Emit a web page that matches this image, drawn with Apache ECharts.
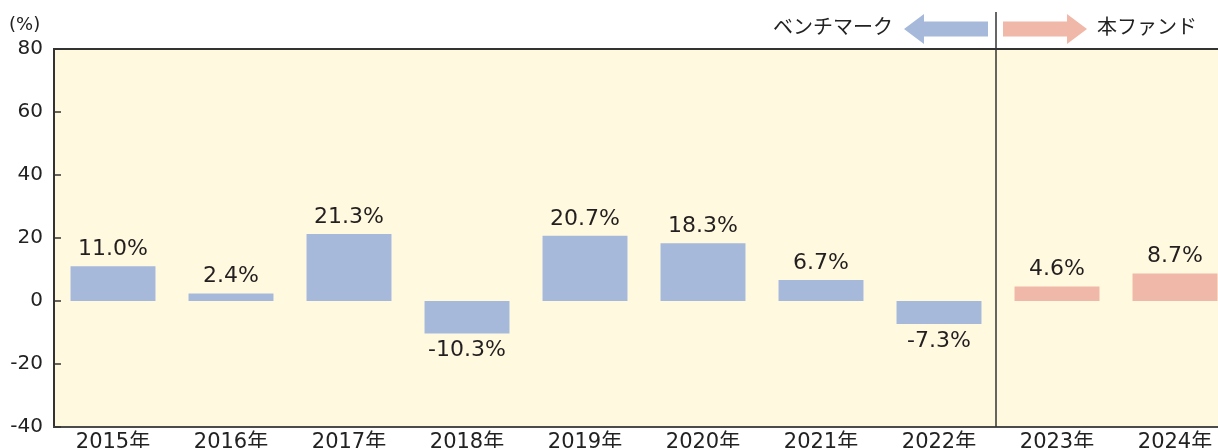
<!DOCTYPE html>
<html>
<head>
<meta charset="utf-8">
<script src="https://cdn.jsdelivr.net/npm/echarts@6/dist/echarts.min.js"></script>
<style>
  html, body { margin: 0; padding: 0; background: #fff; }
  #main { width: 1218px; height: 448px; }
</style>
</head>
<body>
<div id="main"></div>
<script type="text/javascript">
	// データ
	var years = ['2015年', '2016年', '2017年', '2018年', '2019年', '2020年', '2021年', '2022年', '2023年', '2024年'];
	var benchmark = [11.0, 2.4, 21.3, -10.3, 20.7, 18.3, 6.7, -7.3, null, null];
	var fund = [null, null, null, null, null, null, null, null, 4.6, 8.7];
	var yTicks = { min: -40, max: 80, interval: 20 };

	var numFont = '"DejaVu Sans", "Noto Sans CJK JP", sans-serif';
	var jpFont = '"Noto Sans CJK JP", sans-serif';

	function toItems(arr) {
		return arr.map(function (v) {
			if (v === null) return null;
			return {
				value: v,
				label: { position: v < 0 ? 'bottom' : 'top' }
			};
		});
	}

	var chart = echarts.init(document.getElementById('main'));
	var option = {
		animation: false,
		textStyle: { fontFamily: numFont },
		grid: {
			left: 54, top: 49, width: 1180, height: 378,
			outerBoundsMode: 'none', containLabel: false,
			show: true, backgroundColor: '#FFFADF',
			borderColor: '#333', borderWidth: 2
		},
		xAxis: [{
			type: 'category',
			data: years,
			position: 'bottom',
			axisLine: { show: false },
			axisTick: { show: false },
			axisLabel: { fontSize: 21, color: '#222', margin: 5, fontFamily: numFont }
		}, {
			type: 'category',
			data: years,
			position: 'bottom',
			axisLine: { onZero: true, lineStyle: { color: '#555', width: 1.5 } },
			axisTick: { inside: true, length: 10, lineStyle: { color: '#555', width: 1.5 } },
			axisLabel: { show: false }
		}],
		yAxis: {
			type: 'value',
			min: yTicks.min, max: yTicks.max, interval: yTicks.interval,
			axisLine: { show: true, lineStyle: { color: '#333', width: 2 } },
			axisTick: { show: true, inside: true, length: 7, lineStyle: { color: '#333', width: 1.5 } },
			splitLine: { show: false },
			axisLabel: { fontSize: 20, color: '#222', margin: 11, fontFamily: numFont }
		},
		series: [{
			name: 'ベンチマーク',
			type: 'bar',
			stack: 'a',
			barWidth: '72%',
			data: toItems(benchmark),
			itemStyle: { color: '#A6B9DB' },
			label: {
				show: true, fontSize: 22, color: '#231F20', distance: 6, fontFamily: numFont,
				formatter: function (p) { return p.value.toFixed(1) + '%'; }
			}
		}, {
			name: '本ファンド',
			type: 'bar',
			stack: 'a',
			barWidth: '72%',
			data: toItems(fund),
			itemStyle: { color: '#F0B8A8' },
			label: {
				show: true, fontSize: 22, color: '#231F20', distance: 6, fontFamily: numFont,
				formatter: function (p) { return p.value.toFixed(1) + '%'; }
			}
		}],
		graphic: [
			// 単位
			{ type: 'text', left: 9, top: 16, style: { text: '(%)', fontSize: 18, fontFamily: numFont, fill: '#222' } },
			// 区切り線
			{ type: 'line', shape: { x1: 996, y1: 12, x2: 996, y2: 427 }, style: { stroke: '#333', lineWidth: 1.5 }, z: 100 },
			// 左矢印（ベンチマーク）
			{ type: 'polygon', shape: { points: [[904, 29], [924, 14], [924, 21.5], [988, 21.5], [988, 36.5], [924, 36.5], [924, 44]] }, style: { fill: '#A6B9DB' } },
			// 右矢印（本ファンド）
			{ type: 'polygon', shape: { points: [[1087, 29], [1067, 14], [1067, 21.5], [1003, 21.5], [1003, 36.5], [1067, 36.5], [1067, 44]] }, style: { fill: '#F0B8A8' } },
			{ type: 'text', right: 1218 - 893, top: 16, style: { text: 'ベンチマーク', fontSize: 20, fontFamily: jpFont, fill: '#222' } },
			{ type: 'text', left: 1097, top: 16, style: { text: '本ファンド', fontSize: 20, fontFamily: jpFont, fill: '#222' } }
		]
	};
	chart.setOption(option);
</script>
</body>
</html>
